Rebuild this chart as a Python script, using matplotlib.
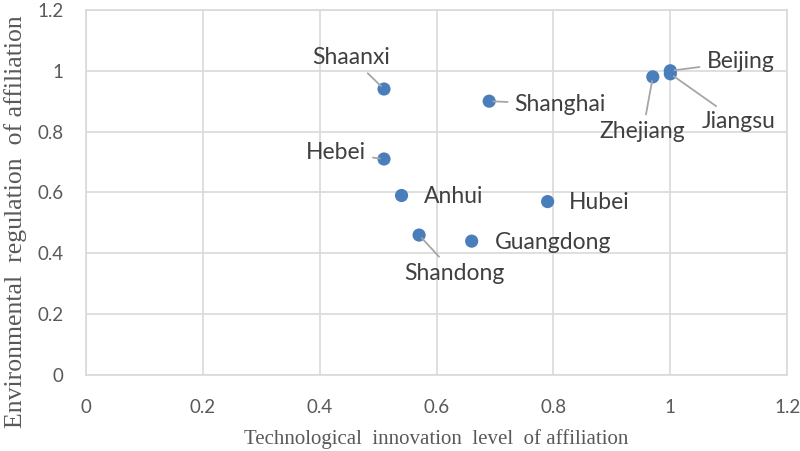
import matplotlib
matplotlib.use("Agg")
import matplotlib.pyplot as plt

provinces = ["Shaanxi", "Shanghai", "Hebei", "Anhui", "Hubei", "Guangdong",
             "Shandong", "Zhejiang", "Beijing", "Jiangsu"]
tech = [0.51, 0.69, 0.51, 0.54, 0.79, 0.66, 0.57, 0.97, 1.00, 1.00]
env = [0.94, 0.90, 0.71, 0.59, 0.57, 0.44, 0.46, 0.98, 1.00, 0.99]
ticks = [0, 0.2, 0.4, 0.6, 0.8, 1.0, 1.2]
tick_labels = ["0", "0.2", "0.4", "0.6", "0.8", "1", "1.2"]

# label offsets in pixels (dx, dy) and whether a leader line is drawn
offsets = {
    "Shaanxi": (-33, 32, True),
    "Shanghai": (71, -3, True),
    "Hebei": (-48, 6, True),
    "Anhui": (52, -1, False),
    "Hubei": (52, -1, False),
    "Guangdong": (81, -1, False),
    "Shandong": (35, -38, True),
    "Zhejiang": (-10, -55, True),
    "Beijing": (70, 9, True),
    "Jiangsu": (68, -48, True),
}

fig = plt.figure(figsize=(8, 4.51), dpi=100)
ax = fig.add_axes([0.1075, 0.1685, 0.8765, 0.8095])
ax.set_xlim(0, 1.2)
ax.set_ylim(0, 1.2)
ax.set_xticks(ticks)
ax.set_yticks(ticks)
ax.set_xticklabels(tick_labels)
ax.set_yticklabels(tick_labels)
ax.grid(True, color="#d9d9d9", linewidth=1.2)
ax.set_axisbelow(True)
for s in ax.spines.values():
    s.set_color("#d9d9d9")
    s.set_linewidth(1.2)
ax.tick_params(length=0, labelsize=13.5, colors="#595959")
ax.tick_params(axis="y", pad=16)
ax.tick_params(axis="x", pad=17)
for lab in ax.get_xticklabels() + ax.get_yticklabels():
    lab.set_fontfamily("Lato")

ax.scatter(tech, env, s=90, color="#4a7ebb", zorder=3, edgecolors="none")

for name, x, y in zip(provinces, tech, env):
    dx, dy, leader = offsets[name]
    ap = None
    if leader:
        ap = dict(arrowstyle="-", color="#a6a6a6", lw=1.3, shrinkA=3, shrinkB=3)
    ax.annotate(name, (x, y), xytext=(dx, dy), textcoords="offset pixels",
                ha="center", va="center", fontsize=16.5, color="#404040",
                family="Lato", arrowprops=ap, zorder=4)

ax.set_xlabel("Technological  innovation  level  of affiliation",
              family="Liberation Serif", fontsize=15, color="#595959", labelpad=10)
ax.set_ylabel("Environmental  regulation  of affiliation",
              family="Liberation Serif", fontsize=18.5, color="#595959",
              va="center")
ax.yaxis.set_label_coords(-0.101, 0.42)

fig.savefig("out.png", dpi=100)
